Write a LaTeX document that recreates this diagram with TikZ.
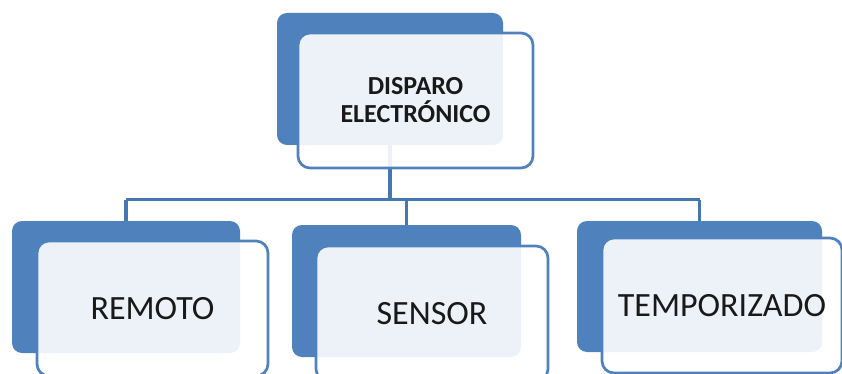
\documentclass[tikz,border=0pt]{standalone}
\usepackage{fontspec}
\setmainfont{Carlito}
\definecolor{accent}{HTML}{4F81BD}
\definecolor{linkblue}{HTML}{4677B0}
\begin{document}
\begin{tikzpicture}[x=1pt,y=-1pt,
  backbox/.style={draw=none,fill=accent,rounded corners=10pt,inner sep=0pt},
  frontbox/.style={draw=accent,line width=2.7pt,fill=white,fill opacity=0.9,text opacity=1,
    rounded corners=12pt,inner sep=0pt,align=center,text=black!90},
  link/.style={draw=linkblue,line width=3.6pt}]
\useasboundingbox (0,0) rectangle (842,374);
\clip (0,0) rectangle (842,374);

% back (solid) panels
\node[backbox,minimum width=226pt,minimum height=132pt] (tb) at (390,79) {};
\node[backbox,minimum width=228pt,minimum height=132pt] (lb) at (126,287) {};
\node[backbox,minimum width=229pt,minimum height=132pt] (mb) at (406.5,291) {};
\node[backbox,minimum width=245pt,minimum height=131pt] (rb) at (699.5,286.5) {};

% hierarchy connectors
\coordinate (bar) at (0,199.5);
\draw[link] (tb.south) -- (tb.south |- bar);
\draw[link] (lb.north |- bar) -- (rb.north |- bar);
\draw[link] (lb.north |- bar) -- (lb.north);
\draw[link] (mb.north |- bar) -- (mb.north);
\draw[link] (rb.north |- bar) -- (rb.north);

% front (light) panels with labels
\node[frontbox,minimum width=235pt,minimum height=135pt,
  font=\fontsize{26}{28}\selectfont\bfseries] (tf) at (415.5,100.5) {DISPARO\\ELECTRÓNICO};
\node[frontbox,minimum width=231pt,minimum height=135pt,
  font=\fontsize{34}{36}\selectfont] (lf) at (152.5,308.5) {REMOTO};
\node[frontbox,minimum width=232pt,minimum height=135pt,
  font=\fontsize{34}{36}\selectfont] (mf) at (432,313.5) {SENSOR};
\node[frontbox,minimum width=240pt,minimum height=135pt,
  font=\fontsize{34}{36}\selectfont] (rf) at (722,305.5) {TEMPORIZADO};
\end{tikzpicture}
\end{document}
